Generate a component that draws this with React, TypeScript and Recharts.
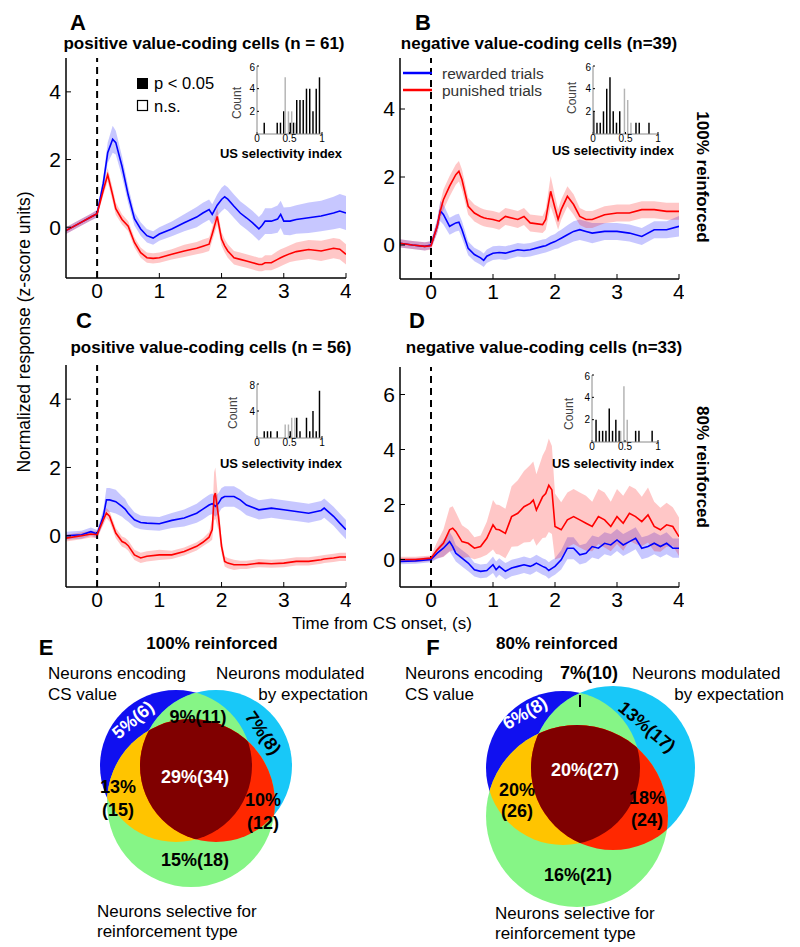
import React from 'react';
import {
  ComposedChart,
  Area,
  Line,
  XAxis,
  YAxis,
  ReferenceLine,
  BarChart,
  Bar,
  ScatterChart,
  Scatter,
} from 'recharts';

const FONT = 'Arial, "Liberation Sans", Helvetica, sans-serif';
const BLUE = '#0000ff';
const RED = '#ff0000';

// ---- traces (time in s, mean and s.e.m. in z-score units) ----
const timeA = [-0.5, -0.25, -0.1, 0, 0.1, 0.17, 0.25, 0.3, 0.4, 0.5, 0.6, 0.7, 0.8, 0.9, 1.0, 1.2, 1.4, 1.6, 1.7, 1.8, 1.85, 1.93, 2.0, 2.05, 2.1, 2.2, 2.3, 2.4, 2.5, 2.6, 2.65, 2.7, 2.8, 2.9, 2.95, 3.0, 3.1, 3.2, 3.4, 3.6, 3.8, 3.9, 4.0];
const blueA = [-0.1, 0.15, 0.3, 0.4, 1.3, 2.2, 2.6, 2.5, 1.8, 0.95, 0.25, -0.05, -0.25, -0.32, -0.2, -0.05, 0.13, 0.3, 0.42, 0.52, 0.38, 0.65, 0.82, 0.9, 0.83, 0.62, 0.42, 0.28, 0.13, -0.05, 0.05, 0.18, 0.18, 0.24, 0.38, 0.18, 0.18, 0.23, 0.28, 0.33, 0.42, 0.48, 0.42];
const blueSemA = [0.1, 0.1, 0.1, 0.12, 0.2, 0.3, 0.4, 0.35, 0.3, 0.25, 0.2, 0.2, 0.2, 0.2, 0.2, 0.22, 0.25, 0.3, 0.3, 0.3, 0.3, 0.32, 0.35, 0.35, 0.35, 0.35, 0.35, 0.35, 0.35, 0.35, 0.35, 0.38, 0.38, 0.4, 0.4, 0.4, 0.42, 0.42, 0.45, 0.45, 0.48, 0.5, 0.5];
const redA = [-0.1, 0.15, 0.3, 0.4, 1.1, 1.55, 0.95, 0.55, 0.23, 0.03, -0.45, -0.75, -0.9, -0.92, -0.9, -0.8, -0.7, -0.62, -0.56, -0.5, -0.2, 0.32, -0.35, -0.55, -0.7, -0.9, -0.95, -1.0, -1.05, -1.1, -1.1, -1.05, -1.05, -0.95, -0.9, -0.86, -0.78, -0.72, -0.66, -0.7, -0.62, -0.65, -0.8];
const redSemA = [0.1, 0.1, 0.1, 0.1, 0.15, 0.2, 0.2, 0.18, 0.15, 0.15, 0.15, 0.15, 0.15, 0.15, 0.15, 0.15, 0.18, 0.18, 0.2, 0.2, 0.2, 0.25, 0.2, 0.2, 0.2, 0.2, 0.2, 0.2, 0.2, 0.2, 0.2, 0.22, 0.22, 0.25, 0.25, 0.25, 0.25, 0.27, 0.28, 0.3, 0.3, 0.3, 0.3];

const timeB = [-0.5, -0.3, -0.1, 0, 0.1, 0.15, 0.2, 0.3, 0.4, 0.45, 0.5, 0.6, 0.7, 0.8, 0.85, 0.9, 1.0, 1.1, 1.2, 1.4, 1.5, 1.6, 1.8, 1.85, 1.93, 2.0, 2.05, 2.1, 2.2, 2.3, 2.4, 2.5, 2.6, 2.8, 3.0, 3.2, 3.4, 3.6, 3.8, 4.0];
const blueB = [0.05, 0.0, -0.04, 0.0, 0.55, 1.0, 0.9, 0.55, 0.65, 0.67, 0.45, -0.1, -0.28, -0.38, -0.45, -0.33, -0.24, -0.22, -0.24, -0.14, -0.16, -0.14, -0.04, -0.02, 0.05, 0.1, 0.15, 0.2, 0.3, 0.4, 0.45, 0.4, 0.35, 0.4, 0.4, 0.35, 0.25, 0.45, 0.45, 0.55];
const blueSemB = [0.12, 0.12, 0.12, 0.12, 0.2, 0.3, 0.3, 0.25, 0.25, 0.25, 0.25, 0.2, 0.2, 0.2, 0.2, 0.2, 0.2, 0.2, 0.2, 0.2, 0.2, 0.2, 0.2, 0.2, 0.22, 0.22, 0.25, 0.25, 0.28, 0.3, 0.3, 0.3, 0.3, 0.25, 0.25, 0.25, 0.25, 0.25, 0.25, 0.3];
const redB = [0.05, 0.0, -0.04, -0.02, 0.55, 1.0, 1.33, 1.73, 2.07, 2.17, 1.92, 1.14, 0.94, 0.84, 0.8, 0.78, 0.75, 0.7, 0.84, 0.75, 0.84, 0.65, 0.6, 0.75, 1.58, 1.09, 0.75, 1.04, 1.43, 1.19, 0.84, 0.75, 0.75, 0.89, 0.94, 0.94, 1.04, 1.04, 0.99, 0.99];
const redSemB = [0.12, 0.12, 0.12, 0.12, 0.2, 0.25, 0.3, 0.3, 0.3, 0.3, 0.3, 0.25, 0.25, 0.25, 0.25, 0.25, 0.25, 0.25, 0.25, 0.25, 0.25, 0.25, 0.25, 0.3, 0.45, 0.35, 0.3, 0.3, 0.3, 0.3, 0.25, 0.25, 0.25, 0.25, 0.25, 0.25, 0.25, 0.25, 0.25, 0.25];

const timeC = [-0.5, -0.25, -0.1, 0, 0.1, 0.15, 0.2, 0.3, 0.4, 0.45, 0.5, 0.6, 0.7, 0.8, 1.0, 1.2, 1.4, 1.6, 1.7, 1.8, 1.85, 1.88, 1.9, 1.95, 2.0, 2.05, 2.1, 2.2, 2.3, 2.4, 2.6, 2.8, 3.0, 3.2, 3.4, 3.6, 3.65, 3.8, 3.9, 4.0];
const blueC = [0.0, 0.03, 0.12, 0.05, 0.57, 1.05, 1.05, 1.0, 0.86, 0.78, 0.66, 0.47, 0.39, 0.37, 0.35, 0.45, 0.52, 0.66, 0.78, 0.9, 0.94, 0.9, 0.86, 0.95, 1.1, 1.15, 1.15, 1.15, 1.05, 0.9, 0.76, 0.81, 0.76, 0.71, 0.66, 0.74, 0.81, 0.57, 0.37, 0.18];
const blueSemC = [0.12, 0.12, 0.12, 0.12, 0.2, 0.35, 0.35, 0.35, 0.3, 0.3, 0.25, 0.22, 0.2, 0.2, 0.2, 0.22, 0.25, 0.28, 0.3, 0.3, 0.3, 0.3, 0.3, 0.3, 0.3, 0.3, 0.3, 0.3, 0.3, 0.3, 0.28, 0.28, 0.28, 0.28, 0.28, 0.28, 0.28, 0.28, 0.28, 0.28];
const redC = [-0.07, 0.0, 0.05, 0.03, 0.47, 0.66, 0.57, 0.08, -0.17, -0.21, -0.29, -0.56, -0.65, -0.6, -0.56, -0.56, -0.46, -0.31, -0.19, -0.04, 0.18, 1.15, 1.25, 0.57, -0.31, -0.75, -0.8, -0.85, -0.85, -0.85, -0.8, -0.82, -0.8, -0.75, -0.75, -0.7, -0.68, -0.65, -0.62, -0.62];
const redSemC = [0.1, 0.1, 0.1, 0.1, 0.15, 0.15, 0.15, 0.15, 0.15, 0.15, 0.15, 0.15, 0.15, 0.15, 0.15, 0.12, 0.12, 0.12, 0.12, 0.15, 0.3, 0.7, 0.75, 0.4, 0.2, 0.15, 0.15, 0.15, 0.12, 0.12, 0.12, 0.12, 0.12, 0.12, 0.12, 0.12, 0.12, 0.12, 0.12, 0.12];

const timeD = [-0.5, -0.25, 0, 0.1, 0.2, 0.3, 0.35, 0.4, 0.5, 0.6, 0.7, 0.8, 0.9, 1.0, 1.05, 1.1, 1.2, 1.3, 1.4, 1.5, 1.6, 1.65, 1.7, 1.8, 1.85, 1.9, 1.95, 2.0, 2.1, 2.2, 2.3, 2.4, 2.5, 2.6, 2.7, 2.8, 2.9, 3.0, 3.1, 3.2, 3.3, 3.4, 3.5, 3.6, 3.7, 3.8, 3.9, 4.0];
const blueD = [-0.07, -0.05, 0.0, 0.23, 0.41, 0.65, 0.47, 0.23, 0.05, -0.13, -0.37, -0.43, -0.4, -0.19, -0.37, -0.25, -0.43, -0.31, -0.25, -0.19, -0.25, -0.2, -0.13, -0.25, -0.3, -0.4, -0.32, -0.25, -0.01, 0.41, 0.41, 0.17, 0.23, 0.47, 0.41, 0.59, 0.53, 0.71, 0.53, 0.65, 0.77, 0.41, 0.47, 0.59, 0.47, 0.59, 0.41, 0.41];
const blueSemD = [0.1, 0.1, 0.1, 0.2, 0.3, 0.35, 0.35, 0.3, 0.3, 0.3, 0.25, 0.25, 0.25, 0.3, 0.3, 0.3, 0.3, 0.3, 0.3, 0.3, 0.3, 0.3, 0.3, 0.3, 0.3, 0.3, 0.3, 0.3, 0.35, 0.4, 0.4, 0.35, 0.35, 0.4, 0.4, 0.4, 0.4, 0.4, 0.4, 0.4, 0.4, 0.4, 0.4, 0.4, 0.4, 0.4, 0.35, 0.35];
const redD = [0.0, 0.0, 0.05, 0.35, 0.59, 1.08, 1.14, 1.02, 0.65, 0.59, 0.41, 0.47, 0.77, 1.26, 1.1, 1.08, 0.95, 1.56, 1.68, 1.92, 2.04, 2.16, 1.8, 2.28, 2.4, 2.7, 2.53, 1.2, 1.08, 1.44, 1.56, 1.44, 1.32, 1.2, 1.56, 1.44, 1.2, 1.56, 1.32, 1.68, 1.56, 1.38, 1.62, 1.2, 1.08, 1.26, 1.2, 0.83];
const redSemD = [0.1, 0.1, 0.1, 0.3, 0.5, 0.8, 0.8, 0.7, 0.6, 0.5, 0.4, 0.4, 0.6, 0.9, 0.9, 0.9, 0.9, 1.1, 1.2, 1.3, 1.4, 1.4, 1.3, 1.5, 1.6, 1.7, 1.6, 1.2, 1.0, 1.0, 1.0, 1.0, 1.0, 0.9, 1.0, 1.0, 0.9, 1.0, 1.0, 1.0, 1.0, 0.9, 1.0, 0.9, 0.8, 0.8, 0.7, 0.7];

const timeTicks = [0, 1, 2, 3, 4];

// ---- US selectivity index histograms (20 bins of 0.05) ----
const binCenters = [0.025, 0.075, 0.125, 0.175, 0.225, 0.275, 0.325, 0.375, 0.425, 0.475, 0.525, 0.575, 0.625, 0.675, 0.725, 0.775, 0.825, 0.875, 0.925, 0.975];
const sigA = [0, 0, 1, 0, 0, 0, 1, 1, 2, 0, 1, 1, 3, 3, 3, 4, 4, 2, 4, 5];
const nsA = [0, 0, 0, 0, 0, 0, 0, 0, 5, 2, 2, 1, 0, 0, 0, 0, 0, 0, 0, 0];
const sigB = [2, 1, 1, 2, 4, 5, 2, 1, 2, 0, 0, 0, 0, 1, 1, 0, 0, 1, 0, 0];
const nsB = [0, 0, 0, 0, 0, 0, 0, 0, 0, 4, 3, 1, 0, 0, 0, 0, 0, 0, 0, 0];
const sigC = [0, 0, 1, 1, 1, 0, 1, 0, 0, 0, 1, 0, 3, 1, 0, 3, 1, 4, 1, 7];
const nsC = [0, 0, 0, 0, 0, 0, 0, 0, 2, 2, 3, 3, 0, 0, 0, 0, 0, 0, 0, 0];
const sigD = [0, 2, 1, 1, 1, 3, 1, 2, 1, 0, 0, 0, 0, 1, 1, 0, 0, 0, 1, 0];
const nsD = [0, 0, 0, 0, 0, 0, 0, 0, 1, 5, 2, 0, 0, 0, 0, 0, 0, 0, 0, 0];

// ---- Venn diagrams: circle centre / radius in diagram pixels ----
const vennE = [
  { set: 'cs', x: 176, y: 156, r: 76 },
  { set: 'exp', x: 216, y: 156, r: 76 },
  { set: 'rein', x: 191, y: 193, r: 84 },
];
const vennF = [
  { set: 'cs', x: 163, y: 158, r: 77 },
  { set: 'exp', x: 213, y: 158, r: 82 },
  { set: 'rein', x: 177, y: 206, r: 91 },
];

const makeRows = (time: number[], blue: number[], blueSem: number[], red: number[], redSem: number[]) =>
  time.map((t, i) => ({
    t,
    blue: blue[i],
    red: red[i],
    blueBand: [blue[i] - blueSem[i], blue[i] + blueSem[i]],
    redBand: [red[i] - redSem[i], red[i] + redSem[i]],
  }));

const makeBins = (sig: number[], ns: number[]) => binCenters.map((x, i) => ({ x, sig: sig[i], ns: ns[i] }));

type Box = { left: number; top: number; w: number; h: number };

function TracePanel({ rows, box, yDomain, yTicks }: { rows: any[]; box: Box; yDomain: number[]; yTicks: number[] }) {
  const padL = 40;
  const padT = 5;
  const padR = 5;
  const padB = 40;
  const line = { stroke: '#000', strokeWidth: 1.5 };
  const tickFont = { fill: '#000', fontSize: 21, fontFamily: FONT };
  return (
    <div style={{ position: 'absolute', left: box.left - padL, top: box.top - padT }}>
      <ComposedChart
        width={box.w + padL + padR}
        height={box.h + padT + padB}
        data={rows}
        margin={{ top: padT, right: padR, left: padL - 30, bottom: padB - 30 }}
      >
        <XAxis
          dataKey="t"
          type="number"
          domain={[-0.5, 4]}
          ticks={timeTicks}
          allowDataOverflow
          height={30}
          tickSize={-5}
          tickMargin={10}
          axisLine={line}
          tickLine={{ stroke: '#000' }}
          tick={tickFont}
        />
        <XAxis
          xAxisId="top"
          orientation="top"
          type="number"
          domain={[-0.5, 4]}
          ticks={timeTicks}
          height={0}
          tickSize={-5}
          tick={false}
          axisLine={line}
          tickLine={{ stroke: '#000' }}
        />
        <YAxis
          type="number"
          domain={yDomain}
          ticks={yTicks}
          allowDataOverflow
          width={30}
          tickSize={-5}
          tickMargin={10}
          axisLine={line}
          tickLine={{ stroke: '#000' }}
          tick={tickFont}
        />
        <YAxis
          yAxisId="right"
          orientation="right"
          type="number"
          domain={yDomain}
          ticks={yTicks}
          width={0}
          tickSize={-5}
          tick={false}
          axisLine={line}
          tickLine={{ stroke: '#000' }}
        />
        <Area type="linear" dataKey="blueBand" stroke="none" fill={BLUE} fillOpacity={0.22} isAnimationActive={false} />
        <Area type="linear" dataKey="redBand" stroke="none" fill={RED} fillOpacity={0.22} isAnimationActive={false} />
        <ReferenceLine x={0} stroke="#000" strokeWidth={2} strokeDasharray="7 5" />
        <Line type="linear" dataKey="blue" stroke={BLUE} strokeWidth={1.6} dot={false} isAnimationActive={false} />
        <Line type="linear" dataKey="red" stroke={RED} strokeWidth={1.6} dot={false} isAnimationActive={false} />
      </ComposedChart>
    </div>
  );
}

function Inset({ rows, box, yMax, yTicks }: { rows: any[]; box: Box; yMax: number; yTicks: number[] }) {
  const padL = 16;
  const padT = 4;
  const padR = 4;
  const padB = 14;
  const frame = { stroke: '#8a8a8a', strokeWidth: 1 };
  const small = { fill: '#000', fontSize: 10, fontFamily: FONT };
  return (
    <div style={{ position: 'absolute', left: box.left - padL, top: box.top - padT }}>
      <div style={{ position: 'absolute', left: padL, top: padT, width: box.w, height: box.h, background: '#fff' }} />
      <BarChart
        width={box.w + padL + padR}
        height={box.h + padT + padB}
        data={rows}
        margin={{ top: padT, right: padR, left: padL - 14, bottom: 0 }}
        barGap={0}
      >
        <XAxis
          dataKey="x"
          type="number"
          domain={[0, 1]}
          ticks={[0, 0.5, 1]}
          height={padB}
          tickSize={-2}
          tickMargin={3}
          axisLine={frame}
          tickLine={{ stroke: '#000' }}
          tick={small}
        />
        <XAxis xAxisId="top" orientation="top" type="number" domain={[0, 1]} ticks={[0, 0.5, 1]} height={0} tickSize={-2} tick={false} axisLine={frame} tickLine={{ stroke: '#000' }} />
        <YAxis
          type="number"
          domain={[0, yMax]}
          ticks={yTicks}
          width={14}
          tickSize={-2}
          tickMargin={4}
          axisLine={frame}
          tickLine={{ stroke: '#000' }}
          tick={small}
        />
        <YAxis yAxisId="right" orientation="right" type="number" domain={[0, yMax]} ticks={yTicks} width={0} tickSize={-2} tick={false} axisLine={frame} tickLine={{ stroke: '#000' }} />
        <Bar dataKey="sig" fill="#000" barSize={2.2} isAnimationActive={false} />
        <Bar dataKey="ns" fill="#b4b4b4" barSize={2.2} isAnimationActive={false} />
      </BarChart>
    </div>
  );
}

const VENN_COLORS = {
  cs: '#1010f0',
  exp: '#18c8f8',
  rein: '#86f586',
  csRein: '#ffc400',
  expRein: '#ff2800',
  all: '#800000',
};

function buildLayers(circles: { set: string; x: number; y: number; r: number }[]) {
  const c = Object.fromEntries(circles.map((d) => [d.set, d]));
  return [
    { ...c.cs, fill: VENN_COLORS.cs, def: 'cs', clips: [] as string[] },
    { ...c.exp, fill: VENN_COLORS.exp, def: 'exp', clips: [] },
    { ...c.cs, fill: VENN_COLORS.rein, clips: ['exp'] },
    { ...c.rein, fill: VENN_COLORS.rein, def: 'rein', clips: [] },
    { ...c.cs, fill: VENN_COLORS.csRein, clips: ['rein'] },
    { ...c.exp, fill: VENN_COLORS.expRein, clips: ['rein'] },
    { ...c.cs, fill: VENN_COLORS.all, clips: ['exp', 'rein'] },
  ];
}

function Venn({ circles, left, top, prefix }: { circles: any[]; left: number; top: number; prefix: string }) {
  const layers = buildLayers(circles);
  const renderLayer = (p: any) => {
    const { cx, cy, payload } = p;
    let node: React.ReactNode = <circle cx={cx} cy={cy} r={payload.r} fill={payload.fill} />;
    payload.clips.forEach((id: string) => {
      node = <g clipPath={`url(#${prefix}-${id})`}>{node}</g>;
    });
    return (
      <g>
        {payload.def && (
          <defs>
            <clipPath id={`${prefix}-${payload.def}`}>
              <circle cx={cx} cy={cy} r={payload.r} />
            </clipPath>
          </defs>
        )}
        {node}
      </g>
    );
  };
  return (
    <div style={{ position: 'absolute', left, top }}>
      <ScatterChart width={400} height={337} margin={{ top: 0, right: 0, bottom: 0, left: 0 }}>
        <XAxis type="number" dataKey="x" domain={[0, 400]} hide />
        <YAxis type="number" dataKey="y" domain={[0, 337]} reversed hide />
        <Scatter data={layers} shape={renderLayer} isAnimationActive={false} />
      </ScatterChart>
    </div>
  );
}

function T({ x, y, s = 17, b = false, a = 'middle', rot = 0, fill = '#000', children }: any) {
  return (
    <text
      x={x}
      y={y}
      fontSize={s}
      fontWeight={b ? 'bold' : 'normal'}
      textAnchor={a}
      dominantBaseline="central"
      fill={fill}
      transform={rot ? `rotate(${rot} ${x} ${y})` : undefined}
    >
      {children}
    </text>
  );
}

function Overlay() {
  return (
    <svg width={800} height={947} style={{ position: 'absolute', left: 0, top: 0, pointerEvents: 'none' }} fontFamily={FONT}>
      {/* panel letters */}
      <T x={78} y={22} s={22} b>A</T>
      <T x={423} y={22} s={22} b>B</T>
      <T x={84} y={320} s={22} b>C</T>
      <T x={417} y={320} s={22} b>D</T>
      <T x={46} y={647} s={22} b>E</T>
      <T x={433} y={647} s={22} b>F</T>

      {/* titles */}
      <T x={204} y={43} b>positive value-coding cells (n = 61)</T>
      <T x={539} y={43} b>negative value-coding cells (n=39)</T>
      <T x={211} y={347} b>positive value-coding cells (n = 56)</T>
      <T x={544} y={347} b>negative value-coding cells (n=33)</T>

      <T x={24} y={332} s={17.5} rot={-90}>Normalized response (z-score units)</T>
      <T x={382} y={623}>Time from CS onset, (s)</T>
      <T x={702} y={177} b rot={90}>100% reinforced</T>
      <T x={702} y={467} b rot={90}>80% reinforced</T>

      {/* legend A */}
      <rect x={137} y={78} width={11} height={11} fill="#000" />
      <T x={154} y={83} s={16.5} a="start">p &lt; 0.05</T>
      <rect x={137.5} y={100.5} width={10} height={10} fill="#fff" stroke="#000" strokeWidth={1.2} />
      <T x={154} y={106} s={16.5} a="start">n.s.</T>

      {/* legend B */}
      <line x1={403} y1={73} x2={432} y2={73} stroke={BLUE} strokeWidth={2.5} />
      <line x1={403} y1={90} x2={432} y2={90} stroke={RED} strokeWidth={2.5} />
      <T x={442} y={73} s={15.5} a="start" fill="#333">rewarded trials</T>
      <T x={442} y={90} s={15.5} a="start" fill="#333">punished trials</T>

      {/* inset labels */}
      <T x={237} y={103} s={12} rot={-90} fill="#444">Count</T>
      <T x={281} y={153} s={13} b>US selectivity index</T>
      <T x={572} y={98} s={12} rot={-90} fill="#444">Count</T>
      <T x={613} y={150} s={13} b>US selectivity index</T>
      <T x={233} y={413} s={12} rot={-90} fill="#444">Count</T>
      <T x={281} y={463} s={13} b>US selectivity index</T>
      <T x={569} y={414} s={12} rot={-90} fill="#444">Count</T>
      <T x={613} y={463} s={13} b>US selectivity index</T>

      {/* Venn E */}
      <T x={212} y={643} b>100% reinforced</T>
      <T x={48} y={673} a="start">Neurons encoding</T>
      <T x={48} y={694} a="start">CS value</T>
      <T x={216} y={673} a="start">Neurons modulated</T>
      <T x={368} y={694} a="end">by expectation</T>
      <T x={97} y={911} a="start">Neurons selective for</T>
      <T x={97} y={931} a="start">reinforcement type</T>
      <T x={133} y={720} s={18} b rot={-40} fill="#fff">5%(6)</T>
      <T x={198} y={717} s={18} b>9%(11)</T>
      <T x={263} y={733} s={18} b rot={55}>7%(8)</T>
      <T x={195} y={777} s={18} b fill="#fff">29%(34)</T>
      <T x={118} y={787} s={18} b>13%</T>
      <T x={118} y={810} s={18} b>(15)</T>
      <T x={263} y={800} s={18} b>10%</T>
      <T x={263} y={823} s={18} b>(12)</T>
      <T x={195} y={860} s={18} b>15%(18)</T>

      {/* Venn F */}
      <T x={557} y={643} b>80% reinforced</T>
      <T x={405} y={673} a="start">Neurons encoding</T>
      <T x={405} y={694} a="start">CS value</T>
      <T x={589} y={673} s={18} b>7%(10)</T>
      <line x1={580} y1={695} x2={580} y2={707} stroke="#000" strokeWidth={2} />
      <T x={632} y={673} a="start">Neurons modulated</T>
      <T x={784} y={694} a="end">by expectation</T>
      <T x={495} y={913} a="start">Neurons selective for</T>
      <T x={495} y={933} a="start">reinforcement type</T>
      <T x={525} y={713} s={18} b rot={-30} fill="#fff">6%(8)</T>
      <T x={647} y={727} s={18} b rot={40}>13%(17)</T>
      <T x={585} y={770} s={18} b fill="#fff">20%(27)</T>
      <T x={517} y={790} s={18} b>20%</T>
      <T x={517} y={811} s={18} b>(26)</T>
      <T x={647} y={798} s={18} b>18%</T>
      <T x={647} y={820} s={18} b>(24)</T>
      <T x={578} y={875} s={18} b>16%(21)</T>
    </svg>
  );
}

export default function App() {
  return (
    <div style={{ position: 'absolute', left: 0, top: 0, width: 800, height: 947, background: '#fff', fontFamily: FONT }}>
      <TracePanel rows={makeRows(timeA, blueA, blueSemA, redA, redSemA)} box={{ left: 66, top: 58, w: 280, h: 220 }} yDomain={[-1.5, 5]} yTicks={[0, 2, 4]} />
      <TracePanel rows={makeRows(timeB, blueB, blueSemB, redB, redSemB)} box={{ left: 400, top: 58, w: 279, h: 221 }} yDomain={[-1, 5.5]} yTicks={[0, 2, 4]} />
      <TracePanel rows={makeRows(timeC, blueC, blueSemC, redC, redSemC)} box={{ left: 66, top: 365, w: 280, h: 222 }} yDomain={[-1.5, 5]} yTicks={[0, 2, 4]} />
      <TracePanel rows={makeRows(timeD, blueD, blueSemD, redD, redSemD)} box={{ left: 400, top: 367, w: 279, h: 220 }} yDomain={[-1, 7]} yTicks={[0, 2, 4, 6]} />

      <Inset rows={makeBins(sigA, nsA)} box={{ left: 257, top: 66, w: 65, h: 68 }} yMax={6} yTicks={[2, 4, 6]} />
      <Inset rows={makeBins(sigB, nsB)} box={{ left: 593, top: 66, w: 65, h: 68 }} yMax={6} yTicks={[2, 4, 6]} />
      <Inset rows={makeBins(sigC, nsC)} box={{ left: 257, top: 384, w: 65, h: 54 }} yMax={8} yTicks={[2, 4, 6, 8]} />
      <Inset rows={makeBins(sigD, nsD)} box={{ left: 592, top: 375, w: 66, h: 67 }} yMax={6} yTicks={[2, 4, 6]} />

      <Venn circles={vennE} left={0} top={610} prefix="vE" />
      <Venn circles={vennF} left={400} top={610} prefix="vF" />

      <Overlay />
    </div>
  );
}
